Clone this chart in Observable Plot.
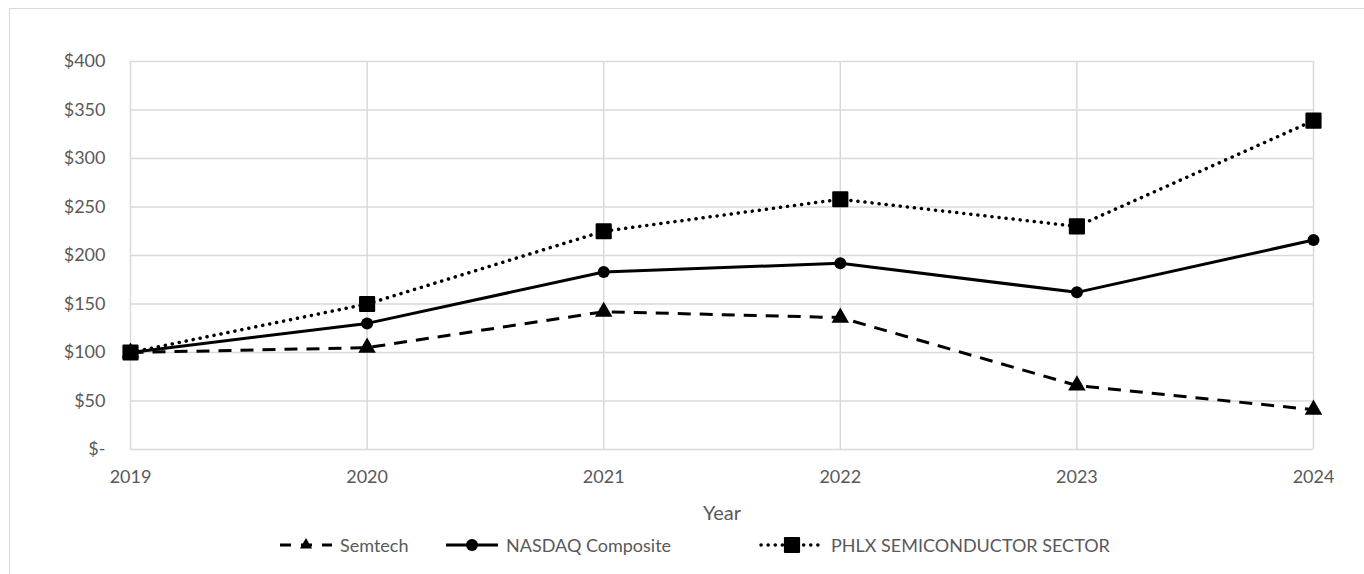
<!DOCTYPE html>
<html><head><meta charset="utf-8">
<script src="https://cdn.jsdelivr.net/npm/d3@7"></script>
<script src="https://cdn.jsdelivr.net/npm/@observablehq/plot@0.6"></script>
<style>
body{margin:0;background:#fff;font-family:Lato, "Open Sans", sans-serif;color:#595959;}
#frame{position:absolute;left:9px;top:8px;width:1420px;height:620px;border:1.5px solid #d9d9d9;box-sizing:border-box;}
#chart{position:absolute;left:0;top:0;}
#legend{position:absolute;left:0;top:532px;width:1364px;height:26px;font-size:18px;}
.item{position:absolute;top:0;display:flex;align-items:center;height:26px;white-space:nowrap;}
.item svg{margin-right:4px;}
</style></head>
<body>
<div id="frame"></div>
<div id="chart"></div>
<div id="legend"></div>
<script>
const years = [2019, 2020, 2021, 2022, 2023, 2024];
const semtech = [100, 105, 142, 136, 66, 41];
const nasdaq = [100, 130, 183, 192, 162, 216];
const phlx = [100, 150, 225, 258, 230, 339];
const seriesNames = ["Semtech", "NASDAQ Composite", "PHLX SEMICONDUCTOR SECTOR"];
const yTicks = [0, 50, 100, 150, 200, 250, 300, 350, 400];

const styles = {
  "Semtech": {dash: "13 9", cap: "butt", width: 3, symbol: "triangle", r: 6.5, sw: 0},
  "NASDAQ Composite": {dash: null, cap: "butt", width: 3, symbol: "circle", r: 6, sw: 0},
  "PHLX SEMICONDUCTOR SECTOR": {dash: "0.1 7", cap: "round", width: 3.5, symbol: "square", r: 8, sw: 2}
};
const valuesBy = {"Semtech": semtech, "NASDAQ Composite": nasdaq, "PHLX SEMICONDUCTOR SECTOR": phlx};
const rows = seriesNames.flatMap(s => years.map((y, i) => ({series: s, year: y, value: valuesBy[s][i]})));

const lineMarks = seriesNames.map(s => {
  const st = styles[s];
  return Plot.line(rows.filter(r => r.series === s), {x: "year", y: "value", stroke: "#000", strokeWidth: st.width,
    strokeDasharray: st.dash, strokeLinecap: st.cap, strokeLinejoin: "round"});
});
const dotMarks = seriesNames.map(s => {
  const st = styles[s];
  return Plot.dot(rows.filter(r => r.series === s), {x: "year", y: "value", symbol: () => st.symbol, r: st.r,
    fill: "#000", stroke: st.sw ? "#000" : "none", strokeWidth: st.sw, strokeLinejoin: "round"});
});

const chart = Plot.plot({
  width: 1364, height: 534,
  marginLeft: 130, marginRight: 51, marginTop: 61, marginBottom: 85,
  style: {fontFamily: "Lato, 'Open Sans', sans-serif", fontSize: "18px", color: "#595959", background: "transparent"},
  x: {domain: [2019, 2024], ticks: years, tickFormat: "d"},
  y: {domain: [0, 400], ticks: yTicks},
  symbol: {type: "identity"},
  marks: [
    Plot.gridY(yTicks, {stroke: "#d9d9d9", strokeOpacity: 1, strokeWidth: 1.5}),
    Plot.gridX(years, {stroke: "#d9d9d9", strokeOpacity: 1, strokeWidth: 1.5}),
    Plot.axisY(yTicks, {tickSize: 0, tickPadding: 25, tickFormat: d => d === 0 ? "$-" : "$" + d, label: null, fill: "#595959", fontSize: 18}),
    Plot.axisX(years, {tickSize: 0, tickPadding: 21, tickFormat: "d", label: null, fill: "#595959", fontSize: 18}),
    Plot.text(["Year"], {frameAnchor: "bottom", lineAnchor: "middle", dy: 64, fill: "#595959", fontSize: 20}),
    ...lineMarks,
    ...dotMarks
  ]
});
document.getElementById("chart").appendChild(chart);

// legend
const legendLeft = {"Semtech": 278, "NASDAQ Composite": 444, "PHLX SEMICONDUCTOR SECTOR": 759};
const legendW = {"Semtech": 58, "NASDAQ Composite": 58, "PHLX SEMICONDUCTOR SECTOR": 68};
const symMap = {triangle: d3.symbolTriangle, circle: d3.symbolCircle, square: d3.symbolSquare};
const leg = d3.select("#legend");
for (const s of seriesNames) {
  const st = styles[s];
  const w = legendW[s];
  const it = leg.append("div").attr("class", "item").style("left", legendLeft[s] + "px");
  const sv = it.append("svg").attr("width", w).attr("height", 26);
  const ln = sv.append("line").attr("x1", 2).attr("x2", w - 4).attr("y1", 13).attr("y2", 13)
    .attr("stroke", "#000").attr("stroke-width", st.width)
    .attr("stroke-dasharray", st.dash).attr("stroke-linecap", st.cap);
  if (s === "Semtech") ln.attr("stroke-dasharray", "11 10").attr("stroke-dashoffset", 0);
  const rr = s === "Semtech" ? 4.5 : st.r;
  sv.append("path").attr("transform", `translate(${(w - 2) / 2},13)`)
    .attr("d", d3.symbol(symMap[st.symbol], Math.PI * rr * rr)())
    .attr("fill", "#000").attr("stroke", st.sw ? "#000" : "none").attr("stroke-width", st.sw).attr("stroke-linejoin", "round");
  it.append("span").text(s);
}
</script>
</body></html>
